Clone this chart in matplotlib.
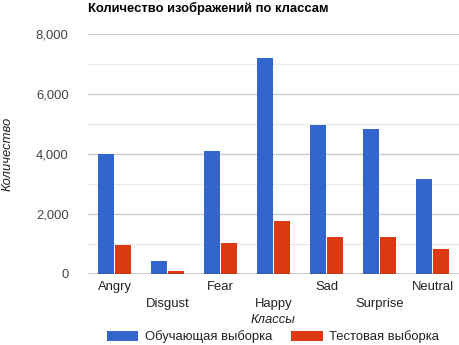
import numpy as np
import matplotlib.pyplot as plt
from matplotlib.ticker import FuncFormatter, MultipleLocator

# data
classes = ["Angry", "Disgust", "Fear", "Happy", "Sad", "Surprise", "Neutral"]
train_counts = [3995, 436, 4097, 7215, 4965, 4830, 3171]
test_counts = [958, 111, 1024, 1774, 1233, 1247, 831]

plt.rcParams['font.family'] = ['Liberation Sans', 'DejaVu Sans']

fig = plt.figure(figsize=(4.59, 3.45), dpi=100)
ax = fig.add_axes([88 / 459, 1 - 274 / 345, 371 / 459, 240 / 345])

x = np.arange(len(classes))
w = 0.3
ax.bar(x - w / 2 - 0.005, train_counts, width=w, color='#3366cc', label='Обучающая выборка', zorder=3)
ax.bar(x + w / 2 + 0.005, test_counts, width=w, color='#dc3912', label='Тестовая выборка', zorder=3)

ax.set_xlim(-0.5, len(classes) - 0.5)
ax.set_ylim(0, 8000)
ax.yaxis.set_major_locator(MultipleLocator(2000))
ax.yaxis.set_minor_locator(MultipleLocator(1000))
ax.yaxis.set_major_formatter(FuncFormatter(lambda v, p: f"{int(v):,}"))
ax.grid(axis='y', which='major', color='#cccccc', lw=1, zorder=0)
ax.grid(axis='y', which='minor', color='#ebebeb', lw=1, zorder=0)
ax.axhline(0, color='#333333', lw=1, zorder=4)

for s in ax.spines.values():
    s.set_visible(False)
ax.tick_params(axis='both', which='both', length=0, labelsize=9.4, colors='#444444')
ax.tick_params(axis='y', pad=14)
ax.tick_params(axis='x', pad=5)
ax.set_xticks(x)
ax.set_xticklabels(classes)
for i, lbl in enumerate(ax.get_xticklabels()):
    lbl.set_color('#222222')
    if i % 2 == 1:
        lbl.set_y(-0.07)

fig.text(273 / 459, 1 - 320 / 345, 'Классы', style='italic', fontsize=9.4,
         color='#222222', ha='center', va='center')
ax.set_ylabel('Количество', style='italic', fontsize=9.4, color='#222222')
ax.yaxis.set_label_coords(-74 / 371, 0.5)

fig.text(88 / 459, 1 - 8 / 345, 'Количество изображений по классам', fontsize=9.4,
         fontweight='bold', color='#000000', ha='left', va='center')

leg = fig.legend(loc='center', bbox_to_anchor=(273 / 459, 1 - 337 / 345), ncol=2,
                 frameon=False, fontsize=9.4, handlelength=2.4, handleheight=0.9,
                 columnspacing=1.5, handletextpad=0.5, borderpad=0)
for t in leg.get_texts():
    t.set_color('#222222')

fig.savefig('out.png', dpi=100)
